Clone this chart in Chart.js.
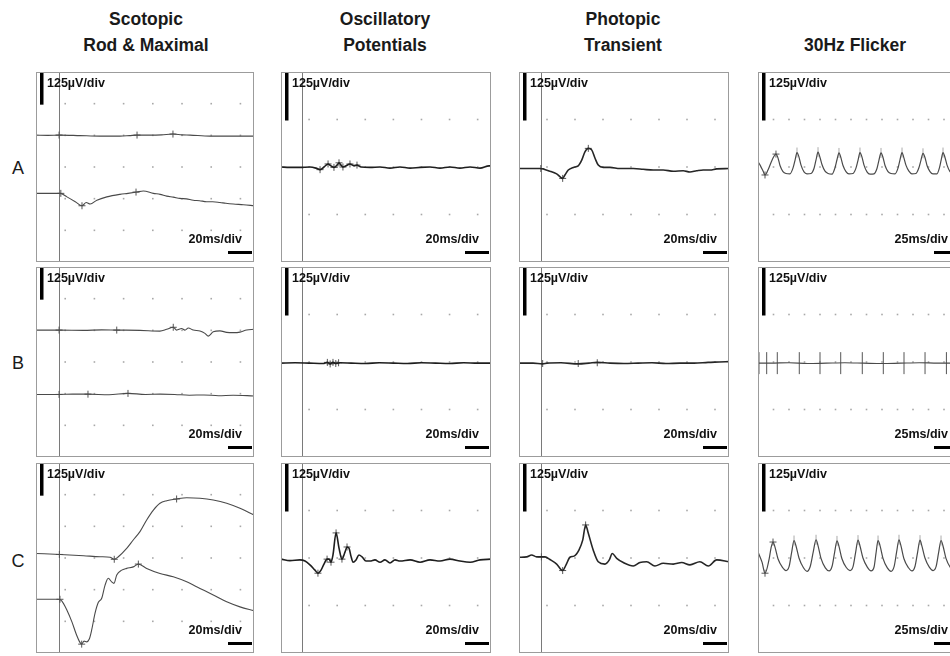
<!DOCTYPE html>
<html>
<head>
<meta charset="utf-8">
<script src="https://cdn.jsdelivr.net/npm/chart.js@4.4.1/dist/chart.umd.min.js"></script>
<style>
  html, body { margin: 0; padding: 0; background: #fff; }
  body { position: relative; width: 950px; height: 656px; overflow: hidden; font-family: Arial, "Liberation Sans", sans-serif; color: #1a1a1a; }
  .title { position: absolute; width: 220px; text-align: center; font-weight: bold; font-size: 17.5px; line-height: 26px; }
  .rowlab { position: absolute; width: 24px; text-align: center; font-size: 18px; line-height: 1; }
  .panel { position: absolute; }
  .panel canvas { position: absolute; left: 0; top: 0; }
  .amp, .tdiv { position: absolute; font-weight: bold; font-size: 12.5px; line-height: 1; white-space: nowrap; color: #111; }
</style>
</head>
<body>
<script>
// ---- labels ----
const colTitles = [['Scotopic', 'Rod & Maximal'], ['Oscillatory', 'Potentials'], ['Photopic', 'Transient'], ['30Hz Flicker']];
const rowLabels = ['A', 'B', 'C'];
const ampLabel = '125µV/div';
const timeLabels = ['20ms/div', '20ms/div', '20ms/div', '25ms/div'];

// ---- axes per column (ms across, µV up) ----
const xMax = [149.3, 149.5, 150, 325.8];
const xStep = [20, 20, 20, 25];
const yHalf = [375, 250, 250, 250];
const stimMs = [15.8, 15, 15.7, null];

// ---- traces: [ms, µV] ----
// Scotopic rod (upper) and maximal (lower)
const scotA1 = [[0,126],[8,125],[16.4,126],[30.1,124],[43.8,122],[57.5,122],[64,124],[69.2,126],[78.1,126],[86,127],[93.8,130],[100,127],[105.5,126],[119.2,122],[132.9,122],[149.3,122]];
const scotA2 = [[0,-104],[16.6,-104],[21.2,-118],[26.9,-137],[31.5,-153],[34.4,-140],[37.1,-146],[41.7,-131],[48.5,-118],[57.5,-108],[63,-104],[69.0,-99],[73.5,-95],[80.4,-104],[85,-108],[89.5,-115],[94,-119],[98.6,-124],[103,-126],[107.7,-131],[112,-133],[116.9,-137],[121,-137],[126.0,-140],[130,-143],[135.1,-146],[142,-149],[149.3,-153]];
const scotB1 = [[0,126],[16.4,126],[32.4,125],[45,127],[55.3,126],[71.2,125],[84.9,122],[89.5,129],[94.0,137],[96.3,126],[99.7,132],[102.0,126],[104.3,134],[107.7,126],[112.3,122],[115.7,113],[118.0,102],[121.4,119],[126.0,123],[130.6,117],[135.1,116],[139.7,118],[144.3,126],[149.3,129]];
const scotB2 = [[0,-128],[15.8,-128],[25,-127],[35.6,-127],[50,-129],[63.0,-124],[75,-128],[85,-127],[95,-128],[105,-131],[115,-130],[125,-133],[135,-131],[149.3,-134]];
const scotC1 = [[0,18],[16.6,14],[32.6,9],[44.0,5],[50.7,3],[53.6,-5],[56.4,5],[62.1,38],[66.6,71],[71.2,104],[75.8,150],[80.4,189],[84.9,216],[89.5,226],[96.3,233],[103.2,238],[112.3,236],[121.4,229],[130.6,216],[139.7,196],[149.3,170]];
const scotC2 = [[0,-163],[15.3,-163],[17.6,-169],[21.2,-206],[24.6,-252],[27.4,-298],[30.1,-333],[31.3,-340],[32.9,-328],[34.7,-331],[36.5,-320],[38.1,-285],[40.4,-219],[42.7,-175],[45.0,-159],[47.3,-107],[49.5,-80],[51.8,-94],[53.4,-100],[55.3,-67],[58.7,-48],[62.1,-41],[66.6,-35],[70.1,-24],[75.8,-41],[84.9,-61],[94.0,-74],[103.2,-94],[112.3,-120],[121.4,-146],[130.6,-173],[139.7,-193],[149.3,-208]];

// Oscillatory potentials
const opsA = [[0,0],[6,-1],[13.5,-1],[20.6,0],[24.9,-3],[27.8,-7],[30.6,0],[33.5,8],[35.6,3],[37.7,-1],[39.9,5],[41.3,11],[42.7,5],[44.1,0],[46.3,3],[49.1,8],[52.0,3],[54.1,5],[57.0,0],[63.4,-1],[70.5,0],[77.6,-3],[84.7,0],[91.9,-3],[99.0,-1],[106.1,0],[113.2,-3],[120.3,0],[127.4,-3],[134.6,0],[141.7,-3],[148.1,3],[149.5,3]];
const opsB = [[0,-3],[10,-2],[20,-3],[30,-4],[33,-1],[35,-5],[37,-1],[39,-4],[42,-2],[50,-3],[60,-4],[70,-2],[80,-3],[90,-4],[100,-2],[110,-3],[120,-4],[130,-2],[140,-3],[149.5,-3]];
const opsC = [[0,-3],[6.4,-7],[13.5,-5],[17.1,-8],[20.6,-18],[24.2,-32],[26.3,-40],[28.5,-32],[30.6,-16],[32.8,-3],[34.2,-3],[35.6,-11],[37.0,8],[39.2,66],[41.3,26],[43.4,-3],[45.6,16],[47.0,29],[48.4,26],[49.8,5],[51.3,-11],[53.4,-5],[55.5,8],[57.7,3],[60.5,-8],[63.4,-8],[66.9,-5],[70.5,-11],[74.0,-5],[77.6,-13],[81.2,-5],[84.7,-8],[91.9,-5],[99.0,-11],[106.1,-5],[113.2,-8],[120.3,-3],[127.4,-8],[134.6,-11],[141.7,-5],[149.5,-3]];

// Photopic transient
const photA = [[0,-4],[15.0,-4],[22.1,-11],[26.9,-18],[31.2,-30],[32.8,-21],[35.2,-8],[38.8,-1],[42.3,3],[44.8,18],[47.1,40],[49.5,49],[51.9,45],[54.3,23],[56.6,5],[60.2,-1],[65.0,-1],[72.1,-4],[81.6,-4],[88.7,-6],[95.9,-8],[103.0,-8],[110.2,-11],[117.3,-10],[122.1,-13],[126.9,-10],[131.6,-8],[136.4,-8],[141.2,-5],[149.9,-4]];
const photB = [[0,-3],[10,-3],[16.9,-5],[20,-3],[30,-2],[42.3,-5],[50,-3],[55.9,-1],[65,-3],[75,-4],[85,-3],[95,-2],[105,-4],[115,-3],[125,-3],[135,-1],[143,0],[150,1]];
const photC = [[0,2],[5.5,3],[9.0,8],[12.6,3],[18.6,3],[22.1,-4],[26.9,-16],[31.2,-33],[33.6,-18],[36.4,2],[39.3,5],[42.8,21],[45.5,47],[47.6,87],[49.5,65],[53.0,21],[56.6,-10],[61.4,-16],[64.5,-5],[66.6,12],[69.8,-1],[74.5,-12],[81.6,-21],[86.4,-12],[91.2,-10],[97.1,-21],[103.0,-14],[110.2,-16],[116.2,-12],[122.1,-18],[129.2,-10],[135.2,-21],[141.2,-5],[150.0,-10]];

// 30Hz flicker
const flickA = [[0,14],[4,3],[8.5,-12],[11.3,-21],[16.1,-8],[22.6,18],[29.0,34],
  [32.2,24],[35.5,4],[40.3,-12],[45.1,-17],[51.6,-18],[56.4,-3],[59.6,17],[62.9,38],
  [66.1,26],[69.4,5],[74.2,-13],[79.0,-18],[85.5,-17],[90.3,-4],[93.5,18],[96.8,39],
  [100.0,25],[103.3,6],[108.1,-11],[112.9,-17],[119.4,-19],[124.2,-2],[127.4,19],[130.6,37],
  [133.8,24],[137.1,4],[141.9,-12],[146.7,-18],[153.2,-17],[158.0,-3],[161.2,17],[164.5,38],
  [167.7,26],[171.0,5],[175.8,-13],[180.6,-19],[187.1,-18],[191.9,-4],[195.1,18],[198.4,37],
  [201.6,25],[204.9,4],[209.7,-12],[214.5,-17],[221.0,-18],[225.8,-3],[229.0,19],[232.3,38],
  [235.3,24],[238.6,5],[243.4,-11],[248.2,-18],[254.7,-17],[259.5,-2],[262.7,17],[266.1,36],
  [269.3,25],[272.6,4],[277.4,-12],[282.2,-18],[288.7,-18],[292.5,-3],[295.4,18],[298.4,38],
  [301.6,25],[304.9,5],[309.7,-12],[314.5,-17],[321.0,-18],[325.8,-3]];
const flickB = [[0,-3],[20,-3],[50,-2],[80,-4],[110,-3],[140,-2],[170,-3],[200,-4],[230,-3],[260,-2],[290,-3],[325.8,-3]];
const flickC = [[0,16],[6.5,-11],[11.3,-40],[17.7,-5],[21,26],[24.2,42],
  [27.2,30],[32.2,-2],[39.2,-24],[45.2,-33],[50.2,-22],[54.2,14],[58.1,46],
  [61.1,33],[66.1,0],[73.1,-25],[79.1,-35],[84.1,-23],[89.1,16],[93.6,48],
  [96.6,34],[101.6,-1],[108.6,-26],[114.6,-34],[119.6,-21],[123.6,15],[127.4,45],
  [130.4,32],[135.4,-2],[142.4,-25],[148.4,-33],[153.4,-22],[157.4,14],[161.3,47],
  [164.3,33],[169.3,0],[176.3,-24],[182.3,-34],[187.3,-23],[190.3,12],[193.6,46],
  [196.6,34],[201.6,-1],[208.6,-26],[214.6,-35],[219.6,-22],[223.6,16],[227.4,48],
  [230.4,33],[235.4,-2],[242.4,-25],[248.4,-34],[253.4,-21],[257.4,15],[261.3,47],
  [264.3,32],[269.3,0],[276.3,-24],[282.3,-33],[287.3,-22],[291.3,14],[295.2,46],
  [298.2,33],[303.2,-1],[310.2,-25],[316.2,-34],[321.2,-22],[325.8,10]];

// ---- cursor marks: [ms, µV] ----
const scotAMarks = [[15.8,126],[69.2,126],[93.8,130],[17,-104],[31.5,-153],[68.5,-99]];
const scotBMarks = [[15.8,126],[55.3,126],[94,137],[15.8,-128],[35.6,-127],[63.0,-124]];
const scotCMarks = [[16,14],[53.6,-5],[96.3,233],[16.4,-163],[31.3,-340],[70.1,-24]];
const opsAMarks = [[27.8,-7],[33.5,8],[37.7,-1],[41.3,11],[44.1,0],[49.1,8],[54.1,5]];
const opsBMarks = [[33,-1],[35,-5],[37,-1],[39,-4],[41,-2]];
const opsCMarks = [[26.3,-40],[32.8,-3],[35.6,-11],[39.2,66],[43.4,-3],[47.0,29]];
const photAMarks = [[15.6,-4],[31.2,-30],[49.5,49]];
const photBMarks = [[16.9,-4],[42.3,-4],[55.9,-2]];
const photCMarks = [[16,3],[31.2,-33],[47.6,87]];
const flickAMarks = [[11.3,-21],[29.0,34]];
const flickCMarks = [[11.3,-40],[24.2,42]];
const flickBTicks = [[1.6,-3],[14.0,-3],[31.1,-3],[66.6,-3],[100.0,-3],[133.4,-3],[168.2,-3],[202.1,-3],[235.5,-3],[269.4,-3],[303.9,-3]];
const flickAPeaks = [[62.9,38],[96.8,39],[130.6,37],[164.5,38],[198.4,37],[232.3,38],[266.1,36],[298.4,38]];
const flickCPeaks = [[58.1,46],[93.6,48],[127.4,45],[161.3,47],[193.6,46],[227.4,48],[261.3,47],[295.2,46]];

// ---- layout ----
const colLeft = [36, 281, 519, 758];
const colWidth = [218, 210, 210, 202];
const titleCenter = [146, 385, 623, 855];
const rowTop = [72, 267, 463];
const rowMid = [167, 362, 560];
const panelH = 190;
const traceColor = ['#4a4a4a', '#1e1e1e', '#262626', '#4a4a4a'];
const traceWidth = [1.1, 1.6, 1.6, 1.2];

const panels = [
  { row: 0, col: 0, traces: [scotA1, scotA2], marks: scotAMarks },
  { row: 0, col: 1, traces: [opsA], marks: opsAMarks },
  { row: 0, col: 2, traces: [photA], marks: photAMarks },
  { row: 0, col: 3, traces: [flickA], marks: flickAMarks, peaks: flickAPeaks },
  { row: 1, col: 0, traces: [scotB1, scotB2], marks: scotBMarks },
  { row: 1, col: 1, traces: [opsB], marks: opsBMarks },
  { row: 1, col: 2, traces: [photB], marks: photBMarks },
  { row: 1, col: 3, traces: [flickB], marks: [], ticks: flickBTicks },
  { row: 2, col: 0, traces: [scotC1, scotC2], marks: scotCMarks },
  { row: 2, col: 1, traces: [opsC], marks: opsCMarks },
  { row: 2, col: 2, traces: [photC], marks: photCMarks },
  { row: 2, col: 3, traces: [flickC], marks: flickCMarks, peaks: flickCPeaks },
];

const toXY = arr => arr.map(([x, y]) => ({ x, y }));

// grid dots, stimulus line, border and calibration bars
const panelDecor = {
  id: 'panelDecor',
  beforeDatasetsDraw(chart, args, o) {
    const { ctx, chartArea: a, scales: { x, y } } = chart;
    ctx.save();
    ctx.fillStyle = '#a8a8a8';
    for (let gx = o.xStep; gx < o.xMax; gx += o.xStep) {
      for (let gy = -o.yHalf + 125; gy < o.yHalf; gy += 125) {
        ctx.fillRect(x.getPixelForValue(gx) - 0.8, y.getPixelForValue(gy) - 0.8, 1.6, 1.6);
      }
    }
    if (o.stim != null) {
      const sx = Math.round(x.getPixelForValue(o.stim)) + 0.5;
      ctx.strokeStyle = '#7a7a7a';
      ctx.lineWidth = 1;
      ctx.beginPath(); ctx.moveTo(sx, a.top); ctx.lineTo(sx, a.bottom); ctx.stroke();
    }
    ctx.restore();
  },
  afterDatasetsDraw(chart, args, o) {
    const { ctx, chartArea: a, scales: { y } } = chart;
    ctx.save();
    ctx.strokeStyle = '#9c9c9c';
    ctx.lineWidth = 1;
    ctx.strokeRect(a.left + 0.5, a.top + 0.5, a.right - a.left - 1, a.bottom - a.top - 1);
    ctx.fillStyle = '#000';
    const y0 = y.getPixelForValue(o.yHalf), y1 = y.getPixelForValue(o.yHalf - 125);
    ctx.fillRect(a.left + 4, y0 + 1, 3.5, y1 - y0);
    ctx.fillRect(a.right - 26, a.bottom - 11, 24, 3);
    ctx.restore();
  }
};

rowLabels.forEach((t, i) => {
  const d = document.createElement('div');
  d.className = 'rowlab';
  d.textContent = t;
  d.style.left = '6px';
  d.style.top = (rowMid[i] - 8) + 'px';
  document.body.appendChild(d);
});

colTitles.forEach((lines, i) => {
  const d = document.createElement('div');
  d.className = 'title';
  d.innerHTML = lines.map(s => s.replace('&', '&amp;')).join('<br>');
  d.style.left = (titleCenter[i] - 110) + 'px';
  d.style.top = (lines.length === 2 ? 6 : 32) + 'px';
  document.body.appendChild(d);
});

panels.forEach(p => {
  const w = colWidth[p.col];
  const box = document.createElement('div');
  box.className = 'panel';
  box.style.left = colLeft[p.col] + 'px';
  box.style.top = rowTop[p.row] + 'px';
  box.style.width = w + 'px';
  box.style.height = panelH + 'px';
  const cv = document.createElement('canvas');
  cv.width = w; cv.height = panelH;
  box.appendChild(cv);
  const amp = document.createElement('div');
  amp.className = 'amp';
  amp.textContent = ampLabel;
  amp.style.left = '11px'; amp.style.top = '5px';
  box.appendChild(amp);
  const td = document.createElement('div');
  td.className = 'tdiv';
  td.textContent = timeLabels[p.col];
  td.style.right = '12px'; td.style.top = '161px';
  box.appendChild(td);
  document.body.appendChild(box);

  const datasets = p.traces.map(tr => ({
    data: toXY(tr),
    borderColor: traceColor[p.col],
    borderWidth: traceWidth[p.col],
    pointRadius: 0,
    cubicInterpolationMode: 'monotone',
    fill: false
  }));
  if (p.marks.length) datasets.push({
    type: 'scatter', data: toXY(p.marks), pointStyle: 'cross',
    pointRadius: 3.5, borderColor: '#555', borderWidth: 1
  });
  if (p.peaks) datasets.push({
    type: 'scatter', data: toXY(p.peaks), pointStyle: 'line', rotation: 90,
    pointRadius: 5, borderColor: '#aaa', borderWidth: 1
  });
  if (p.ticks) datasets.push({
    type: 'scatter', data: toXY(p.ticks), pointStyle: 'line', rotation: 90,
    pointRadius: 11, borderColor: '#555', borderWidth: 1
  });

  new Chart(cv, {
    type: 'line',
    data: { datasets },
    options: {
      responsive: false,
      animation: false,
      events: [],
      layout: { padding: 0, autoPadding: false },
      plugins: {
        legend: { display: false },
        tooltip: { enabled: false },
        panelDecor: { xStep: xStep[p.col], xMax: xMax[p.col], yHalf: yHalf[p.col], stim: stimMs[p.col] }
      },
      scales: {
        x: { type: 'linear', min: 0, max: xMax[p.col], display: false },
        y: { type: 'linear', min: -yHalf[p.col], max: yHalf[p.col], display: false }
      }
    },
    plugins: [panelDecor]
  });
});
</script>
</body>
</html>
